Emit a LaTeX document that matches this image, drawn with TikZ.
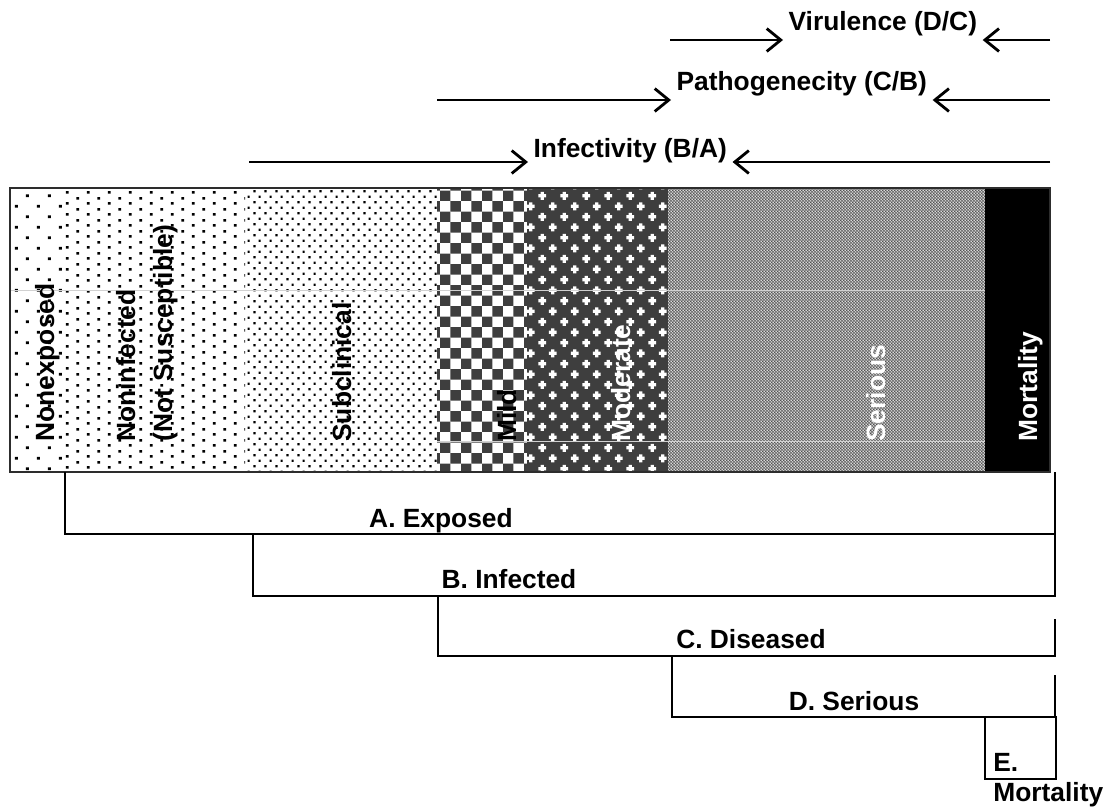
\documentclass[tikz,border=0pt]{standalone}
\usepackage{fontspec}
\setmainfont{Liberation Sans}
\usetikzlibrary{arrows.meta,patterns.meta,calc}
\definecolor{dark}{RGB}{62,62,62}
\definecolor{frame}{RGB}{45,45,45}
\definecolor{fine}{RGB}{80,80,80}
\definecolor{finebg}{RGB}{200,200,200}

\def\pix{0.569pt}

% dot lattices: tile w/h in px
\tikzdeclarepattern{
	name=sparsedots,
	type=colored,
	bounding box={(0pt,0pt) and (22*\pix,21*\pix)},
	tile size={(22*\pix,21*\pix)},
	code={
		\fill[black] (4*\pix,4*\pix) rectangle (7*\pix,6.6*\pix);
		\fill[black] (15*\pix,14.5*\pix) rectangle (18*\pix,17.1*\pix);
	}
}
\tikzdeclarepattern{
	name=middots,
	type=colored,
	bounding box={(0pt,0pt) and (21*\pix,10.6*\pix)},
	tile size={(21*\pix,10.6*\pix)},
	code={
		\fill[black] (3.9*\pix,1.4*\pix) rectangle (6.7*\pix,3.9*\pix);
		\fill[black] (14.4*\pix,6.7*\pix) rectangle (17.2*\pix,9.2*\pix);
	}
}
\tikzdeclarepattern{
	name=densedots,
	type=colored,
	bounding box={(0pt,0pt) and (10.5*\pix,11*\pix)},
	tile size={(10.5*\pix,11*\pix)},
	code={
		\fill[black] (1.5*\pix,1.7*\pix) rectangle (3.8*\pix,3.8*\pix);
		\fill[black] (6.8*\pix,7.2*\pix) rectangle (9.1*\pix,9.3*\pix);
	}
}
\tikzdeclarepattern{
	name=checker,
	type=colored,
	bounding box={(0pt,0pt) and (21*\pix,21*\pix)},
	tile size={(21*\pix,21*\pix)},
	code={
		\fill[dark] (0pt,0pt) rectangle (10.5*\pix,10.5*\pix);
		\fill[dark] (10.5*\pix,10.5*\pix) rectangle (21*\pix,21*\pix);
	}
}
\tikzdeclarepattern{
	name=crosses,
	type=colored,
	bounding box={(0pt,0pt) and (21.5*\pix,21*\pix)},
	tile size={(21.5*\pix,21*\pix)},
	code={
		\fill[white] (1.4*\pix,3.6*\pix) rectangle (9.4*\pix,6.9*\pix);
		\fill[white] (3.75*\pix,1.25*\pix) rectangle (7.05*\pix,9.25*\pix);
		\fill[white] (12.1*\pix,14.1*\pix) rectangle (20.1*\pix,17.4*\pix);
		\fill[white] (14.45*\pix,11.75*\pix) rectangle (17.75*\pix,19.75*\pix);
	}
}
\tikzdeclarepattern{
	name=finechecker,
	type=colored,
	bounding box={(0pt,0pt) and (3.4*\pix,3.4*\pix)},
	tile size={(3.4*\pix,3.4*\pix)},
	code={
		\fill[fine] (0pt,0pt) rectangle (1.7*\pix,1.7*\pix);
		\fill[fine] (1.7*\pix,1.7*\pix) rectangle (3.4*\pix,3.4*\pix);
	}
}

\begin{document}
\begin{tikzpicture}[x=0.02cm,y=-0.02cm]

		\tikzset{lbl/.style={font=\fontsize{15}{17}\selectfont\bfseries,inner sep=3pt}}
		\tikzset{vlbl/.style={lbl,rotate=90,anchor=base west,inner sep=0pt}}
		\tikzset{arrow/.style={draw,line width=1.6pt,-{Straight Barb[length=8pt,width=13pt]}}}
		\tikzset{brace/.style={draw,line width=0.9pt}}
		\tikzset{seam/.style={draw,white!82!black,line width=0.5pt}}

		\useasboundingbox (0,0) rectangle (1104,809);

		% bands of the bar
		\fill[pattern=sparsedots] (10,188) rectangle (65,472);
		\fill[pattern=middots] (65,188) rectangle (245,472);
		\fill[pattern=densedots] (245,188) rectangle (437,472);
		\fill[pattern=checker] (437,188) rectangle (527,472);
		\fill[dark] (527,188) rectangle (668,472);
		\fill[pattern=crosses] (527,188) rectangle (668,472);
		\fill[finebg] (668,188) rectangle (985,472);
		\fill[pattern=finechecker] (668,188) rectangle (985,472);
		\fill[black] (985,188) rectangle (1050,472);

		\path[seam] (10,290) to (985,290);
		\path[seam] (437,441) to (985,441);

		\draw[frame,line width=1.3pt] (10,188) rectangle (1050,472);

		\node[vlbl] (nonexp) at (54,442) {Nonexposed};
		\node[vlbl] (noninf) at (135,442) {Noninfected};
		\node[vlbl] (notsus) at (172,442) {(Not Susceptible)};
		\node[vlbl] (subcl) at (351,442) {Subclinical};
		\node[vlbl] (mild) at (516,442) {Mild};
		\node[vlbl, white] (moder) at (630,442) {Moderate};
		\node[vlbl, white] (serious) at (885,442) {Serious};
		\node[vlbl, white] (mort) at (1037,442) {Mortality};

		% top ratios
		\coordinate (vir-l) at (670,40);
		\coordinate (vir-r) at (1050,40);
		\node[lbl, anchor=base west] (vir) at (783,30) {Virulence (D/C)};

		\coordinate (path-l) at (437,100);
		\coordinate (path-r) at (1050,100);
		\node[lbl, anchor=base west] (path) at (671,90) {Pathogenecity (C/B)};

		\coordinate (inf-l) at (249,162);
		\coordinate (inf-r) at (1050,162);
		\node[lbl, anchor=base west] (inf) at (528,157) {Infectivity (B/A)};

		\draw[arrow] (vir-l) -- (vir.south west |- vir-l);
		\draw[arrow] (vir-r) -- (vir.south east |- vir-r);
		\draw[arrow] (path-l) -- (path.south west |- path-l);
		\draw[arrow] (path-r) -- (path.south east |- path-r);
		\draw[arrow] (inf-l) -- (inf.south west |- inf-l);
		\draw[arrow] (inf-r) -- (inf.south east |- inf-r);

		% nested groups
		\path[brace] (65,472) -- (65,534) -- (1055,534) -- (1055,472);
		\path[brace] (253,534) -- (253,596) -- (1055,596) -- (1055,534);
		\path[brace] (438,596) -- (438,656) -- (1055,656) -- (1055,619);
		\path[brace] (672,656) -- (672,717) -- (1055,717) -- (1055,675);
		\path[brace] (985,717) rectangle (1056,779);

		\node[lbl, anchor=base] (grpa) at (441,527) {A. Exposed};
		\node[lbl, anchor=base] (grpb) at (509,588) {B. Infected};
		\node[lbl, anchor=base] (grpc) at (751,648) {C. Diseased};
		\node[lbl, anchor=base] (grpd) at (854,710) {D. Serious};
		\node[lbl, anchor=north west, align=left, inner sep=0pt] (grpe) at (993,753) {E.\\Mortality};

\end{tikzpicture}
\end{document}
